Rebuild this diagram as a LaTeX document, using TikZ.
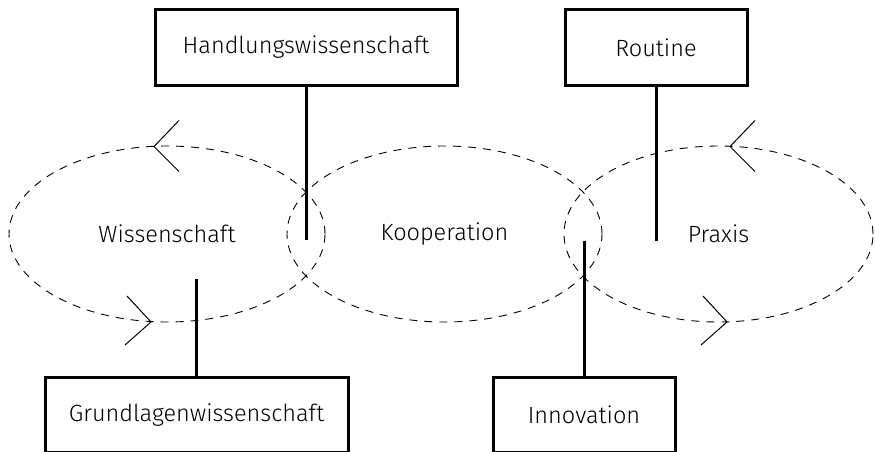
\documentclass[tikz,border=0pt]{standalone}
\usepackage{fontspec}
\setmainfont{Fira Sans Light}
\usetikzlibrary{shapes.geometric}
\begin{document}
\begin{tikzpicture}[x=1pt,y=-1pt,
  font=\fontsize{23.5}{28}\selectfont,
  termbox/.style={draw, line width=3pt, rectangle, inner sep=0pt, minimum height=75pt},
  field/.style={draw, dashed, dash pattern=on 8pt off 7pt, line width=0.9pt, ellipse, inner sep=0pt},
  link/.style={line width=3pt},
  turn/.style={line width=1pt}
]
\useasboundingbox (0,0) rectangle (875,452);

% the three fields
\node[field, minimum width=316pt, minimum height=176pt] (wis) at (167,234) {Wissenschaft};
\node[field, minimum width=315pt, minimum height=176pt] (koop) at (444.5,234) {Kooperation};
\node[field, minimum width=309pt, minimum height=176pt] (prax) at (718.5,234) {Praxis};

% terms above and below
\node[termbox, minimum width=302pt] (hw) at (306,47.5) {Handlungswissenschaft};
\node[termbox, minimum width=303pt] (gw) at (196.5,415) {Grundlagenwissenschaft};
\node[termbox, minimum width=182pt] (rout) at (656,47.5) {Routine};
\node[termbox, minimum width=182pt] (inno) at (584,414.5) {Innovation};

% loose ends of the links inside the fields
\coordinate (hwEnd) at (306,240);
\coordinate (gwEnd) at (196.5,279);
\coordinate (routEnd) at (656,241);
\coordinate (innoEnd) at (584,241);

\draw[link] (hw.south) -- (hwEnd);
\draw[link] (gw.north) -- (gwEnd);
\draw[link] (rout.south) -- (routEnd);
\draw[link] (inno.north) -- (innoEnd);

% direction marks on the cycles
\coordinate (wisTop) at (154,146.5);
\coordinate (wisBot) at (151,322);
\coordinate (praxTop) at (730,146.5);
\coordinate (praxBot) at (727,322);

\draw[turn] ([shift={(25,-26)}]wisTop) -- (wisTop) -- ([shift={(25,25)}]wisTop);
\draw[turn] ([shift={(-24,-26)}]wisBot) -- (wisBot) -- ([shift={(-26,23)}]wisBot);
\draw[turn] ([shift={(25,-26)}]praxTop) -- (praxTop) -- ([shift={(25,25)}]praxTop);
\draw[turn] ([shift={(-24,-26)}]praxBot) -- (praxBot) -- ([shift={(-26,23)}]praxBot);
\end{tikzpicture}
\end{document}
